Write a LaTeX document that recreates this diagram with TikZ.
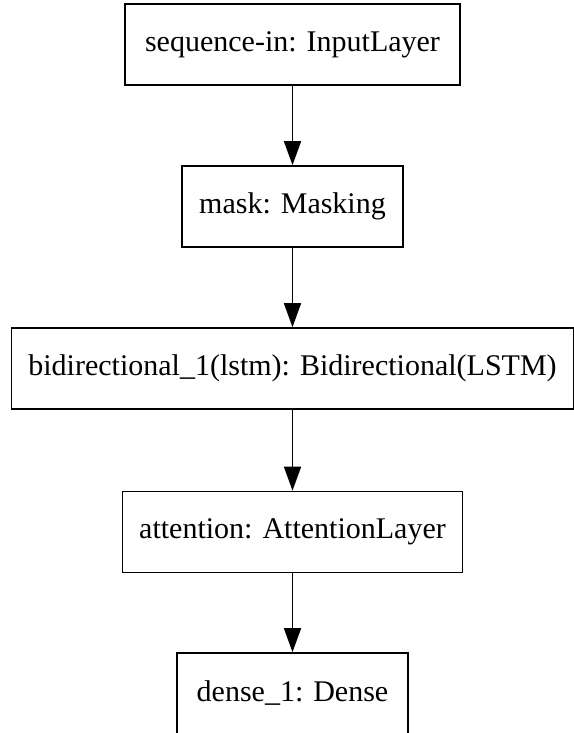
\documentclass[tikz,border=0pt]{standalone}
\usepackage{fontspec}
\setmainfont{Liberation Serif}
\usetikzlibrary{arrows.meta}
\begin{document}
\begin{tikzpicture}[x=1pt,y=1pt,
  layer/.style={draw=black, line width=1.6pt, fill=white, minimum height=81pt,
    inner sep=0pt, font=\fontsize{30}{36}\selectfont, anchor=center},
  flow/.style={draw=black, line width=1.6pt, -{Triangle[length=24pt,width=17pt]}}]
  \useasboundingbox (0,0) rectangle (573,-733);
  \node[layer, minimum width=335pt] (input) at (292.5,-44.5) {sequence-in: InputLayer};
  \node[layer, minimum width=221pt] (mask) at (292.5,-206.5) {mask: Masking};
  \node[layer, minimum width=562pt] (bilstm) at (292.5,-368.5) {bidirectional\_1(lstm): Bidirectional(LSTM)};
  \node[layer, minimum width=340pt] (attn) at (292.5,-532) {attention: AttentionLayer};
  \node[layer, minimum width=231pt] (dense) at (292.5,-693.5) {dense\_1: Dense};
  \draw[flow] (input.south) -- (mask.north);
  \draw[flow] (mask.south) -- (bilstm.north);
  \draw[flow] (bilstm.south) -- (attn.north);
  \draw[flow] (attn.south) -- (dense.north);
\end{tikzpicture}
\end{document}
